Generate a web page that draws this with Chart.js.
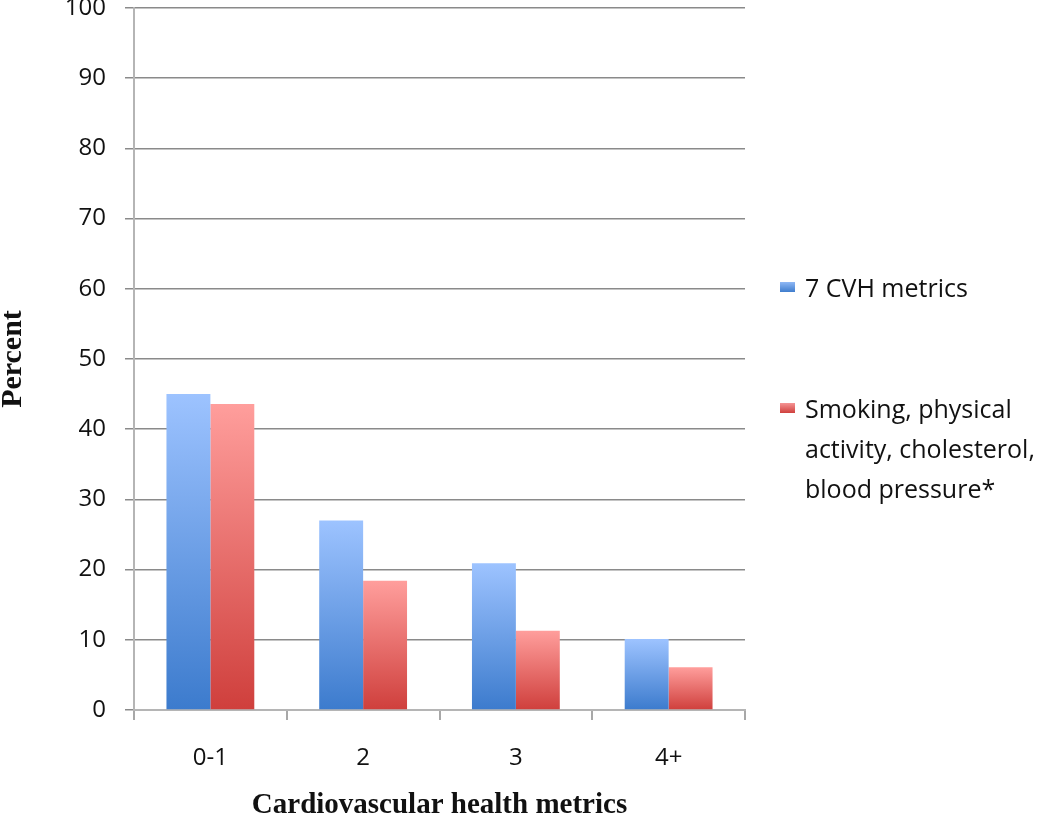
<!DOCTYPE html>
<html>
<head>
<meta charset="utf-8">
<script src="https://cdn.jsdelivr.net/npm/chart.js@4.4.0/dist/chart.umd.min.js"></script>
<style>
  html, body { margin: 0; padding: 0; background: #fff; }
  #wrap { position: relative; width: 1050px; height: 816px; }
  #legend { position: absolute; left: 780px; top: 0; font-family: "Open Sans", sans-serif; font-size: 25px; color: #111; }
  .item { position: absolute; left: 0; white-space: nowrap; line-height: 40px; }
  .box { position: absolute; left: 0; width: 15px; height: 10px; }
  .txt { position: absolute; left: 25px; }
</style>
</head>
<body>
<div id="wrap">
  <canvas id="myChart" width="1050" height="816"></canvas>
  <div id="legend">
    <div class="item" style="top:267px">
      <div class="box" style="top:15px;background:linear-gradient(#8fb8f5,#3f7dcd)"></div>
      <div class="txt">7 CVH metrics</div>
    </div>
    <div class="item" style="top:388px">
      <div class="box" style="top:15px;background:linear-gradient(#f59494,#cf403d)"></div>
      <div class="txt">Smoking, physical<br>activity, cholesterol,<br>blood pressure*</div>
    </div>
  </div>
</div>
<script>
const categories = ['0-1', '2', '3', '4+'];
const cvhAll = [45.0, 27.0, 20.9, 10.1];
const cvhFour = [43.6, 18.4, 11.3, 6.1];
const yTicks = [0, 10, 20, 30, 40, 50, 60, 70, 80, 90, 100];

const ctx = document.getElementById('myChart');

// gradient per bar: light at the top, dark at the base
function barGradient(topColor, bottomColor, flat) {
    return function (context) {
        const chart = context.chart;
        if (!chart.chartArea || context.raw === undefined) return flat;
        const y = chart.scales.y;
        const top = y.getPixelForValue(context.raw);
        const bottom = y.getPixelForValue(0);
        const g = chart.ctx.createLinearGradient(0, top, 0, bottom);
        g.addColorStop(0, topColor);
        g.addColorStop(1, bottomColor);
        return g;
    };
}

const chart = new Chart(ctx, {
    type: 'bar',
    data: {
        labels: categories,
        datasets: [{
            label: '7 CVH metrics',
            data: cvhAll,
            backgroundColor: barGradient('#9dc3ff', '#3c7bcd', '#5f95e0'),
            borderWidth: 0
        }, {
            label: 'Smoking, physical activity, cholesterol, blood pressure*',
            data: cvhFour,
            backgroundColor: barGradient('#ff9e9c', '#cf3f3c', '#e66563'),
            borderWidth: 0
        }]
    },
    options: {
        responsive: false,
        animation: false,
        layout: { padding: { left: 0, top: 8, right: 305, bottom: 0 } },
        plugins: {
            legend: { display: false },
            tooltip: { enabled: false }
        },
        datasets: {
            bar: { categoryPercentage: 0.575, barPercentage: 1.0 }
        },
        scales: {
            x: {
                grid: { display: true, drawOnChartArea: false, color: '#a8a8a8', lineWidth: 2, tickLength: 10, offset: true },
                border: { color: '#b5b5b5', width: 2 },
                ticks: { color: '#111', font: { family: 'Open Sans', size: 24 }, padding: 24 },
                title: {
                    display: true,
                    text: 'Cardiovascular health metrics',
                    color: '#111',
                    font: { family: 'Liberation Serif', size: 29, weight: 'bold', lineHeight: 1 },
                    padding: { top: 0, bottom: -4 }
                },
                afterFit: function (scale) { scale.height = 106; }
            },
            y: {
                min: 0,
                max: 100,
                afterBuildTicks: function (scale) { scale.ticks = yTicks.map(v => ({ value: v })); },
                grid: { color: '#8a8a8a', lineWidth: 1.5, tickLength: 9 },
                border: { color: '#b5b5b5', width: 2 },
                ticks: { color: '#111', font: { family: 'Open Sans', size: 24 }, padding: 19 },
                title: {
                    display: true,
                    text: 'Percent',
                    color: '#111',
                    font: { family: 'Liberation Serif', size: 30, weight: 'bold', lineHeight: 1 },
                    padding: { top: -2, bottom: 0 }
                },
                afterFit: function (scale) {
                    scale.width = 134;
                    scale.paddingTop = 0;
                    scale.paddingBottom = 0;
                }
            }
        }
    }
});
</script>
</body>
</html>
